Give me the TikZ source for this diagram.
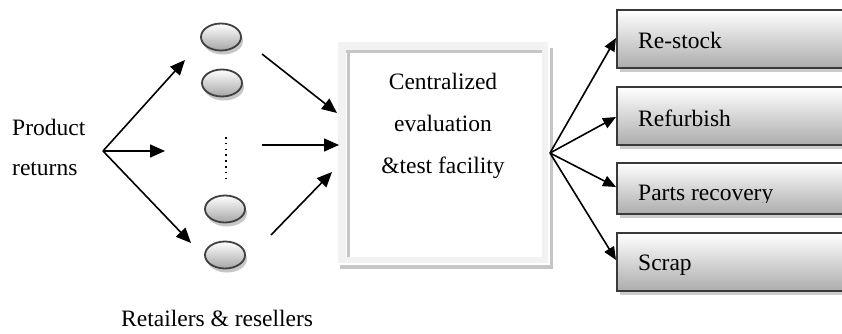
\documentclass[tikz,border=0pt]{standalone}
\usepackage{fontspec}
\setmainfont{Liberation Serif}
\usetikzlibrary{arrows.meta,shapes.geometric,shadows}
\begin{document}
\begin{tikzpicture}[x=1pt,y=-1pt,
  every node/.style={font=\fontsize{23.5}{28}\selectfont},
  coin/.style={ellipse, minimum width=40pt, minimum height=27pt, inner sep=0pt,
    top color=white, bottom color=gray!70, draw=gray!50!black, line width=1.8pt,
    drop shadow={shadow xshift=2pt, shadow yshift=-4pt, fill=gray!45, opacity=1}},
  outbox/.style={rectangle, anchor=north west, minimum width=260pt, inner sep=0pt,
    top color=white, bottom color=gray!65, draw=gray!45!black, line width=1.8pt},
  boxshadow/.style={fill=gray!40},
  hatch/.style={draw=gray!45, line width=3pt},
  bigarrow/.style={line width=1.6pt, -{Triangle[length=15pt,width=13pt]}},
  smallarrow/.style={line width=1.6pt, -{Triangle[length=13pt,width=11pt]}},
  lbl/.style={anchor=base west, inner sep=0pt}]
\clip (0,0) rectangle (842,334);
\fill[white] (0,0) rectangle (842,334);

% left text
\node[lbl] (prod) at (12,135) {Product};
\node[lbl] (ret) at (12,175) {returns};
\node[lbl] (retail) at (121,326) {Retailers \& resellers};

% coins
\node[coin] (e1) at (221,37) {};
\node[coin] (e2) at (222,83) {};
\node[coin] (e3) at (225,209) {};
\node[coin] (e4) at (225,255) {};
\coordinate (d1) at (226,137);
\coordinate (d2) at (226,180);
\draw[line width=1.5pt, dash pattern=on 1.5pt off 4.3pt] (d1) -- (d2);

% left fan
\coordinate (apexL) at (103,151);
\coordinate (tU) at (185,60);
\coordinate (tM) at (165,151);
\coordinate (tD) at (191,243);
\draw[bigarrow] (apexL) -- (tU);
\draw[bigarrow] (apexL) -- (tM);
\draw[bigarrow] (apexL) -- (tD);

% central box
\node[rectangle, fill=gray!10, minimum width=210pt, minimum height=221pt, inner sep=0pt, anchor=north west] (cbox) at (338,42) {};
\fill[white] (346,50) rectangle (542,257);
\draw[hatch] (346,52) -- (542,52);
\draw[hatch] (348,52) -- (348,257);
\draw[hatch] (551,48) -- (551,269);
\draw[draw=gray!45, line width=4pt] (340,267) -- (553,267);
\node[anchor=base] (c1) at (443,90) {Centralized};
\node[anchor=base] (c2) at (443,131) {evaluation};
\node[anchor=base] (c3) at (443,173) {\&test facility};

% arrows into box
\coordinate (s1) at (262,54);
\coordinate (s2) at (262,145);
\coordinate (s3) at (271,235);
\coordinate (b1) at (337,113);
\coordinate (b2) at (339,145);
\coordinate (b3) at (332,172);
\draw[bigarrow] (s1) -- (b1);
\draw[bigarrow] (s2) -- (b2);
\draw[bigarrow] (s3) -- (b3);

% right boxes
\fill[boxshadow] (620,62) rectangle (842,72);
\fill[boxshadow] (620,139) rectangle (842,149);
\fill[boxshadow] (620,208) rectangle (842,218);
\fill[boxshadow] (620,285) rectangle (842,295);
\node[outbox, minimum height=58pt] (rs) at (616,9) {};
\node[outbox, minimum height=58pt] (rf) at (616,86) {};
\node[outbox, minimum height=51pt] (pr) at (616,162) {};
\node[outbox, minimum height=58pt] (sc) at (616,232) {};
\node[lbl] (rsT) at (638,49) {Re-stock};
\node[lbl] (rfT) at (638,126) {Refurbish};
\begin{scope}
\clip (616,150) rectangle (842,202);
\node[lbl] (prT) at (638,200) {Parts recovery};
\end{scope}
\node[lbl] (scT) at (638,270) {Scrap};

% right fan
\coordinate (apexR) at (550,153);
\draw[smallarrow] (apexR) -- (rs.west |- 0,38);
\draw[smallarrow] (apexR) -- (rf.west |- 0,117);
\draw[smallarrow] (apexR) -- (pr.west |- 0,187);
\draw[smallarrow] (apexR) -- (sc.west |- 0,260);
\end{tikzpicture}
\end{document}
